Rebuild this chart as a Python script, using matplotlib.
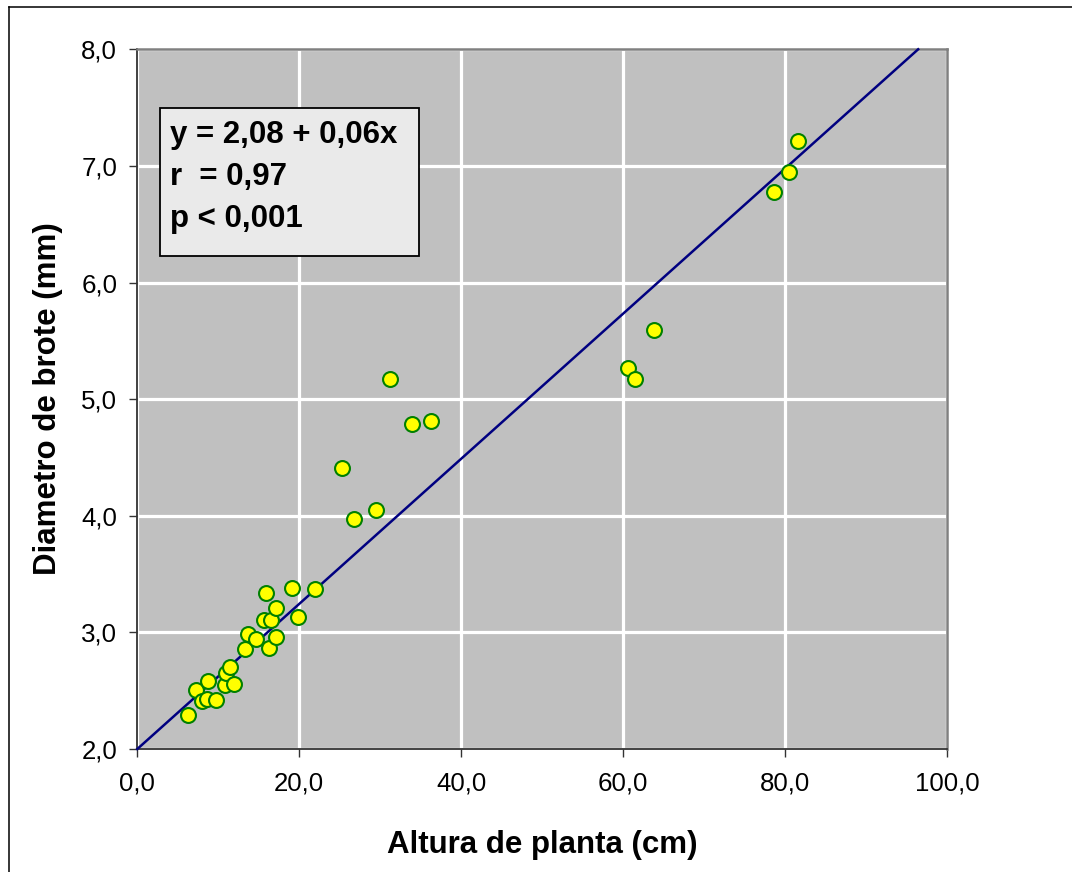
import matplotlib
matplotlib.use("Agg")
import matplotlib.pyplot as plt
from matplotlib.patches import Rectangle
from matplotlib.lines import Line2D
from matplotlib.ticker import FuncFormatter, MultipleLocator
import numpy as np

# ---- data ----
altura = [6.3, 7.3, 7.95, 8.6, 8.7, 9.7, 10.8, 11.0, 11.4, 11.9, 13.3, 13.7, 14.7,
          15.6, 15.9, 16.2, 16.5, 17.1, 17.1, 19.1, 19.9, 21.9, 25.3, 26.8, 29.5,
          31.2, 33.9, 36.2, 60.6, 61.4, 63.8, 78.6, 80.4, 81.6]
diametro = [2.29, 2.51, 2.41, 2.43, 2.58, 2.42, 2.55, 2.65, 2.70, 2.56, 2.86, 2.99, 2.94,
            3.11, 3.34, 2.87, 3.11, 2.96, 3.21, 3.38, 3.13, 3.37, 4.41, 3.97, 4.05,
            5.17, 4.79, 4.81, 5.27, 5.17, 5.59, 6.78, 6.95, 7.21]
line_x = [0.0, 96.4]
line_intercept = 2.0
line_slope = 0.06224
stats_text = ["y = 2,08 + 0,06x", "r  = 0,97", "p < 0,001"]
xlabel = "Altura de planta (cm)"
ylabel = "Diametro de brote (mm)"

plt.rcParams['font.family'] = ['Liberation Sans', 'DejaVu Sans']

W, H = 1072, 872
fig = plt.figure(figsize=(W / 100, H / 100), dpi=100)
fig.patch.set_facecolor('white')

# outer border (only left and top edges visible)
bx, by = 9.3 / W, 1 - 6.7 / H
fig.add_artist(Line2D([bx, bx], [-0.05, by], transform=fig.transFigure,
                      color='black', linewidth=1.1))
fig.add_artist(Line2D([bx, 1.05], [by, by], transform=fig.transFigure,
                      color='black', linewidth=1.1))

ax = fig.add_axes([137.3 / W, 1 - 749 / H, 810 / W, 699.7 / H])
ax.set_facecolor('#C0C0C0')
ax.set_xlim(0, 100)
ax.set_ylim(2, 8)
ax.xaxis.set_major_locator(MultipleLocator(20))
ax.yaxis.set_major_locator(MultipleLocator(1))
fmt = FuncFormatter(lambda v, p: f"{v:.1f}".replace('.', ','))
ax.xaxis.set_major_formatter(fmt)
ax.yaxis.set_major_formatter(fmt)

ax.grid(True, color='white', linewidth=2.3, zorder=0)
ax.set_axisbelow(True)

for s in ['top', 'right']:
    ax.spines[s].set_color('#808080')
    ax.spines[s].set_linewidth(1.8)
for s in ['left', 'bottom']:
    ax.spines[s].set_color('#333333')
    ax.spines[s].set_linewidth(1.3)

ax.tick_params(axis='both', direction='out', length=5.5, width=1, color='#333333',
               labelsize=18.6, labelcolor='black')
ax.tick_params(axis='y', pad=9)
ax.tick_params(axis='x', pad=11)

lx = np.array(line_x)
ax.plot(lx, line_intercept + line_slope * lx, color='#000080', linewidth=1.8, zorder=3,
        clip_on=False)
ax.scatter(altura, diametro, s=115, facecolor='#FFFF00', edgecolor='#008000',
           linewidth=1.5, zorder=4)

# stats box
ax.add_patch(Rectangle((0.028, 0.705), 0.3194, 0.2115, transform=ax.transAxes,
                       facecolor='#EAEAEA', edgecolor='black', linewidth=1.3, zorder=5))
for t, yb in zip(stats_text, [0.8657, 0.806, 0.7465]):
    ax.text(0.0404, yb, t, transform=ax.transAxes, fontsize=22.5, fontweight='bold',
            ha='left', va='baseline', zorder=6)

fig.text(542 / W, 1 - 853 / H, xlabel, fontsize=22.5, fontweight='bold',
         ha='center', va='baseline')
fig.text(48 / W, 1 - 399 / H, ylabel, fontsize=22.5, fontweight='bold',
         ha='center', va='center', rotation=90)

fig.savefig('out.png', dpi=100)
